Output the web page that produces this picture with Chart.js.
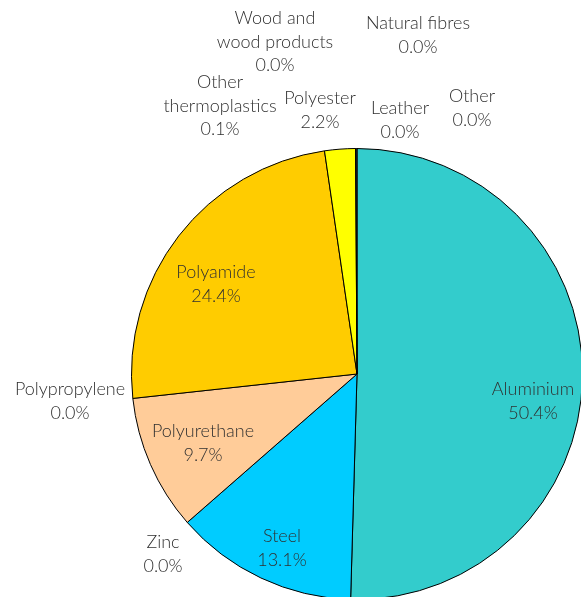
<!DOCTYPE html>
<html>
<head>
<meta charset="utf-8">
<script src="https://cdn.jsdelivr.net/npm/chart.js@4"></script>
<style>
  html, body { margin: 0; padding: 0; background: #fff; overflow: hidden; width: 581px; height: 597px; }
  #wrap { position: absolute; left: 0; top: 0; width: 620px; height: 620px; }
</style>
</head>
<body>
<div id="wrap"><canvas id="pie" width="620" height="620"></canvas></div>
<script>
// materials, clockwise from 12 o'clock
const materials = [
	"Aluminium", "Steel", "Zinc", "Polyurethane", "Polypropylene", "Polyamide",
	"Polyester", "Other thermoplastics", "Wood and wood products", "Natural fibres", "Leather", "Other"
];
const shares = [50.4, 13.1, 0.0, 9.7, 0.0, 24.4, 2.2, 0.1, 0.0, 0.0, 0.0, 0.0];
const sliceColors = [
	"#33CCCC", "#00CCFF", "#3366FF", "#FFCC99", "#FF99CC", "#FFCC00",
	"#FFFF00", "#333333", "#996633", "#99CC00", "#993300", "#808080"
];

// label lines and their offsets from the pie centre
const labelLines = [
	["Aluminium"], ["Steel"], ["Zinc"], ["Polyurethane"], ["Polypropylene"], ["Polyamide"],
	["Polyester"], ["Other", "thermoplastics"], ["Wood and", "wood products"], ["Natural fibres"], ["Leather"], ["Other"]
];
const labelOffsets = [
	[176, 27], [-75, 174], [-194, 180], [-154, 69], [-287, 27], [-141, -90],
	[-37, -264], [-137, -268], [-82, -332], [61, -339], [43, -254], [115, -266]
];

const pieLabels = {
	id: "pieLabels",
	afterDatasetsDraw(chart) {
		const ctx = chart.ctx;
		const arc = chart.getDatasetMeta(0).data[0];
		const cx = arc.x, cy = arc.y;
		ctx.save();
		ctx.font = "300 18px Lato";
		ctx.fillStyle = "#303030";
		ctx.textAlign = "center";
		ctx.textBaseline = "middle";
		const lh = 23.5;
		labelLines.forEach((lines, i) => {
			const all = lines.concat([shares[i].toFixed(1) + "%"]);
			const [dx, dy] = labelOffsets[i];
			const top = cy + dy - (all.length - 1) * lh / 2;
			all.forEach((t, k) => ctx.fillText(t, cx + dx, top + k * lh));
		});
		ctx.restore();
	}
};

new Chart(document.getElementById("pie").getContext("2d"), {
	type: "pie",
	data: {
		labels: materials,
		datasets: [{
			data: shares,
			backgroundColor: sliceColors,
			borderColor: "#000000",
			borderWidth: 1
		}]
	},
	options: {
		responsive: false,
		animation: false,
		layout: { padding: { left: 131, top: 148, right: 37, bottom: 20 } },
		plugins: {
			legend: { display: false },
			tooltip: { enabled: false }
		}
	},
	plugins: [pieLabels]
});
</script>
</body>
</html>
